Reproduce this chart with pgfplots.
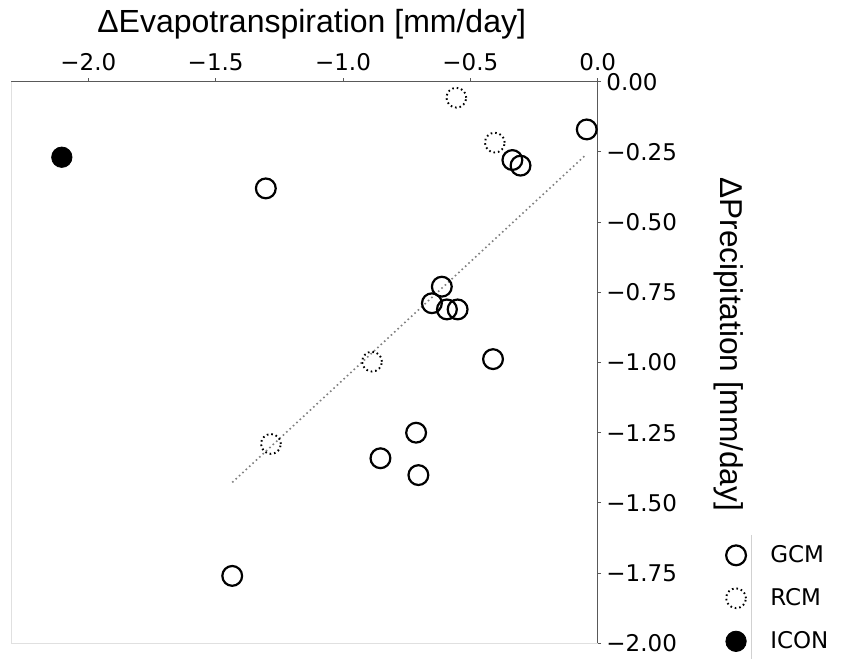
\documentclass[border=0pt]{standalone}
\usepackage{fontspec}
\setmainfont{DejaVu Sans}
\newfontfamily\labelfont{Liberation Sans}
\usepackage{pgfplots}
\pgfplotsset{compat=1.18}
\begin{document}
\begin{tikzpicture}
\begin{axis}[
  at={(0bp,0bp)}, anchor=south west,
  scale only axis, width=586.7bp, height=561.6bp,
  xmin=-2.3035, xmax=0, ymin=-2, ymax=0,
  clip=false,
  axis x line*=top, axis y line*=right,
  axis line style={-, black!65, line width=1bp},
  xtick={-2,-1.5,-1,-0.5,0},
  xticklabels={−2.0,−1.5,−1.0,−0.5,0.0},
  ytick={0,-0.25,-0.5,-0.75,-1,-1.25,-1.5,-1.75,-2},
  yticklabels={0.00,−0.25,−0.50,−0.75,−1.00,−1.25,−1.50,−1.75,−2.00},
  tick align=outside, major tick length=3.5bp,
  tick style={black!65, line width=0.8bp},
  ticklabel style={font=\fontsize{23bp}{27bp}\selectfont, text=black},
  xticklabel style={anchor=base, inner sep=0pt, yshift=8bp},
  yticklabel style={anchor=west, inner sep=0pt, xshift=5bp},
  xlabel={ΔEvapotranspiration [mm/day]},
  ylabel={ΔPrecipitation [mm/day]},
  xlabel style={at={(axis description cs:0.5125,1.088)}, anchor=base, inner sep=0pt,
    font=\labelfont\fontsize{32bp}{38bp}\selectfont},
  ylabel style={at={(axis description cs:1.2096,0.5326)}, anchor=base, inner sep=0pt, rotate=180,
    font=\labelfont\fontsize{31.6bp}{38bp}\selectfont},
  legend style={at={(axis description cs:1.2181,0.1748)}, anchor=north west,
    draw=none, fill=none, inner sep=0pt, row sep=23bp,
    font=\fontsize{23bp}{27bp}\selectfont,
    nodes={inner sep=0pt, text height=17bp, text depth=0bp},
    /tikz/every odd column/.append style={column sep=24bp}},
  legend cell align=left,
  legend image code/.code={\draw[mark repeat=2,mark phase=2,#1] plot coordinates {(0bp,-1.5bp) (11bp,-1.5bp) (22bp,-1.5bp)};},
]
\draw[black!12, line width=0.8bp] (rel axis cs:0,1) -- (rel axis cs:0,0) -- (rel axis cs:1,0);
% regression line
\addplot[forget plot, black!50, line width=1.6bp, dash pattern=on 1.6bp off 3bp]
  coordinates {(-1.435,-1.427) (-0.047,-0.261)};
% GCM
\addplot[only marks, mark=o, mark size=9.9bp, mark options={black, line width=2.2bp, solid}]
  coordinates {
  (-1.303,-0.380) (-0.043,-0.170) (-0.335,-0.279) (-0.303,-0.299)
  (-0.612,-0.730) (-0.651,-0.789) (-0.592,-0.811) (-0.550,-0.811)
  (-0.411,-0.988) (-0.713,-1.250) (-0.853,-1.341) (-0.704,-1.401)
  (-1.435,-1.760)};
\addlegendentry{GCM}
% RCM
\addplot[only marks, mark=o, mark size=9.9bp, mark options={black, line width=1.9bp, dash pattern=on 1.6bp off 2.9bp}]
  coordinates {(-0.555,-0.057) (-0.404,-0.217) (-0.886,-0.997) (-1.283,-1.290)};
\addlegendentry{RCM}
% ICON
\addplot[only marks, mark=*, mark size=10.2bp, mark options={black, fill=black, line width=0.8bp}]
  coordinates {(-2.104,-0.269)};
\addlegendentry{ICON}
\end{axis}
\draw[black!18, line width=0.8bp] (740.7bp,108.3bp) -- (740.7bp,-16bp);
\pgfresetboundingbox
\path[use as bounding box] (-11bp,-15.7bp) rectangle (835bp,643.3bp);
\end{tikzpicture}
\end{document}
